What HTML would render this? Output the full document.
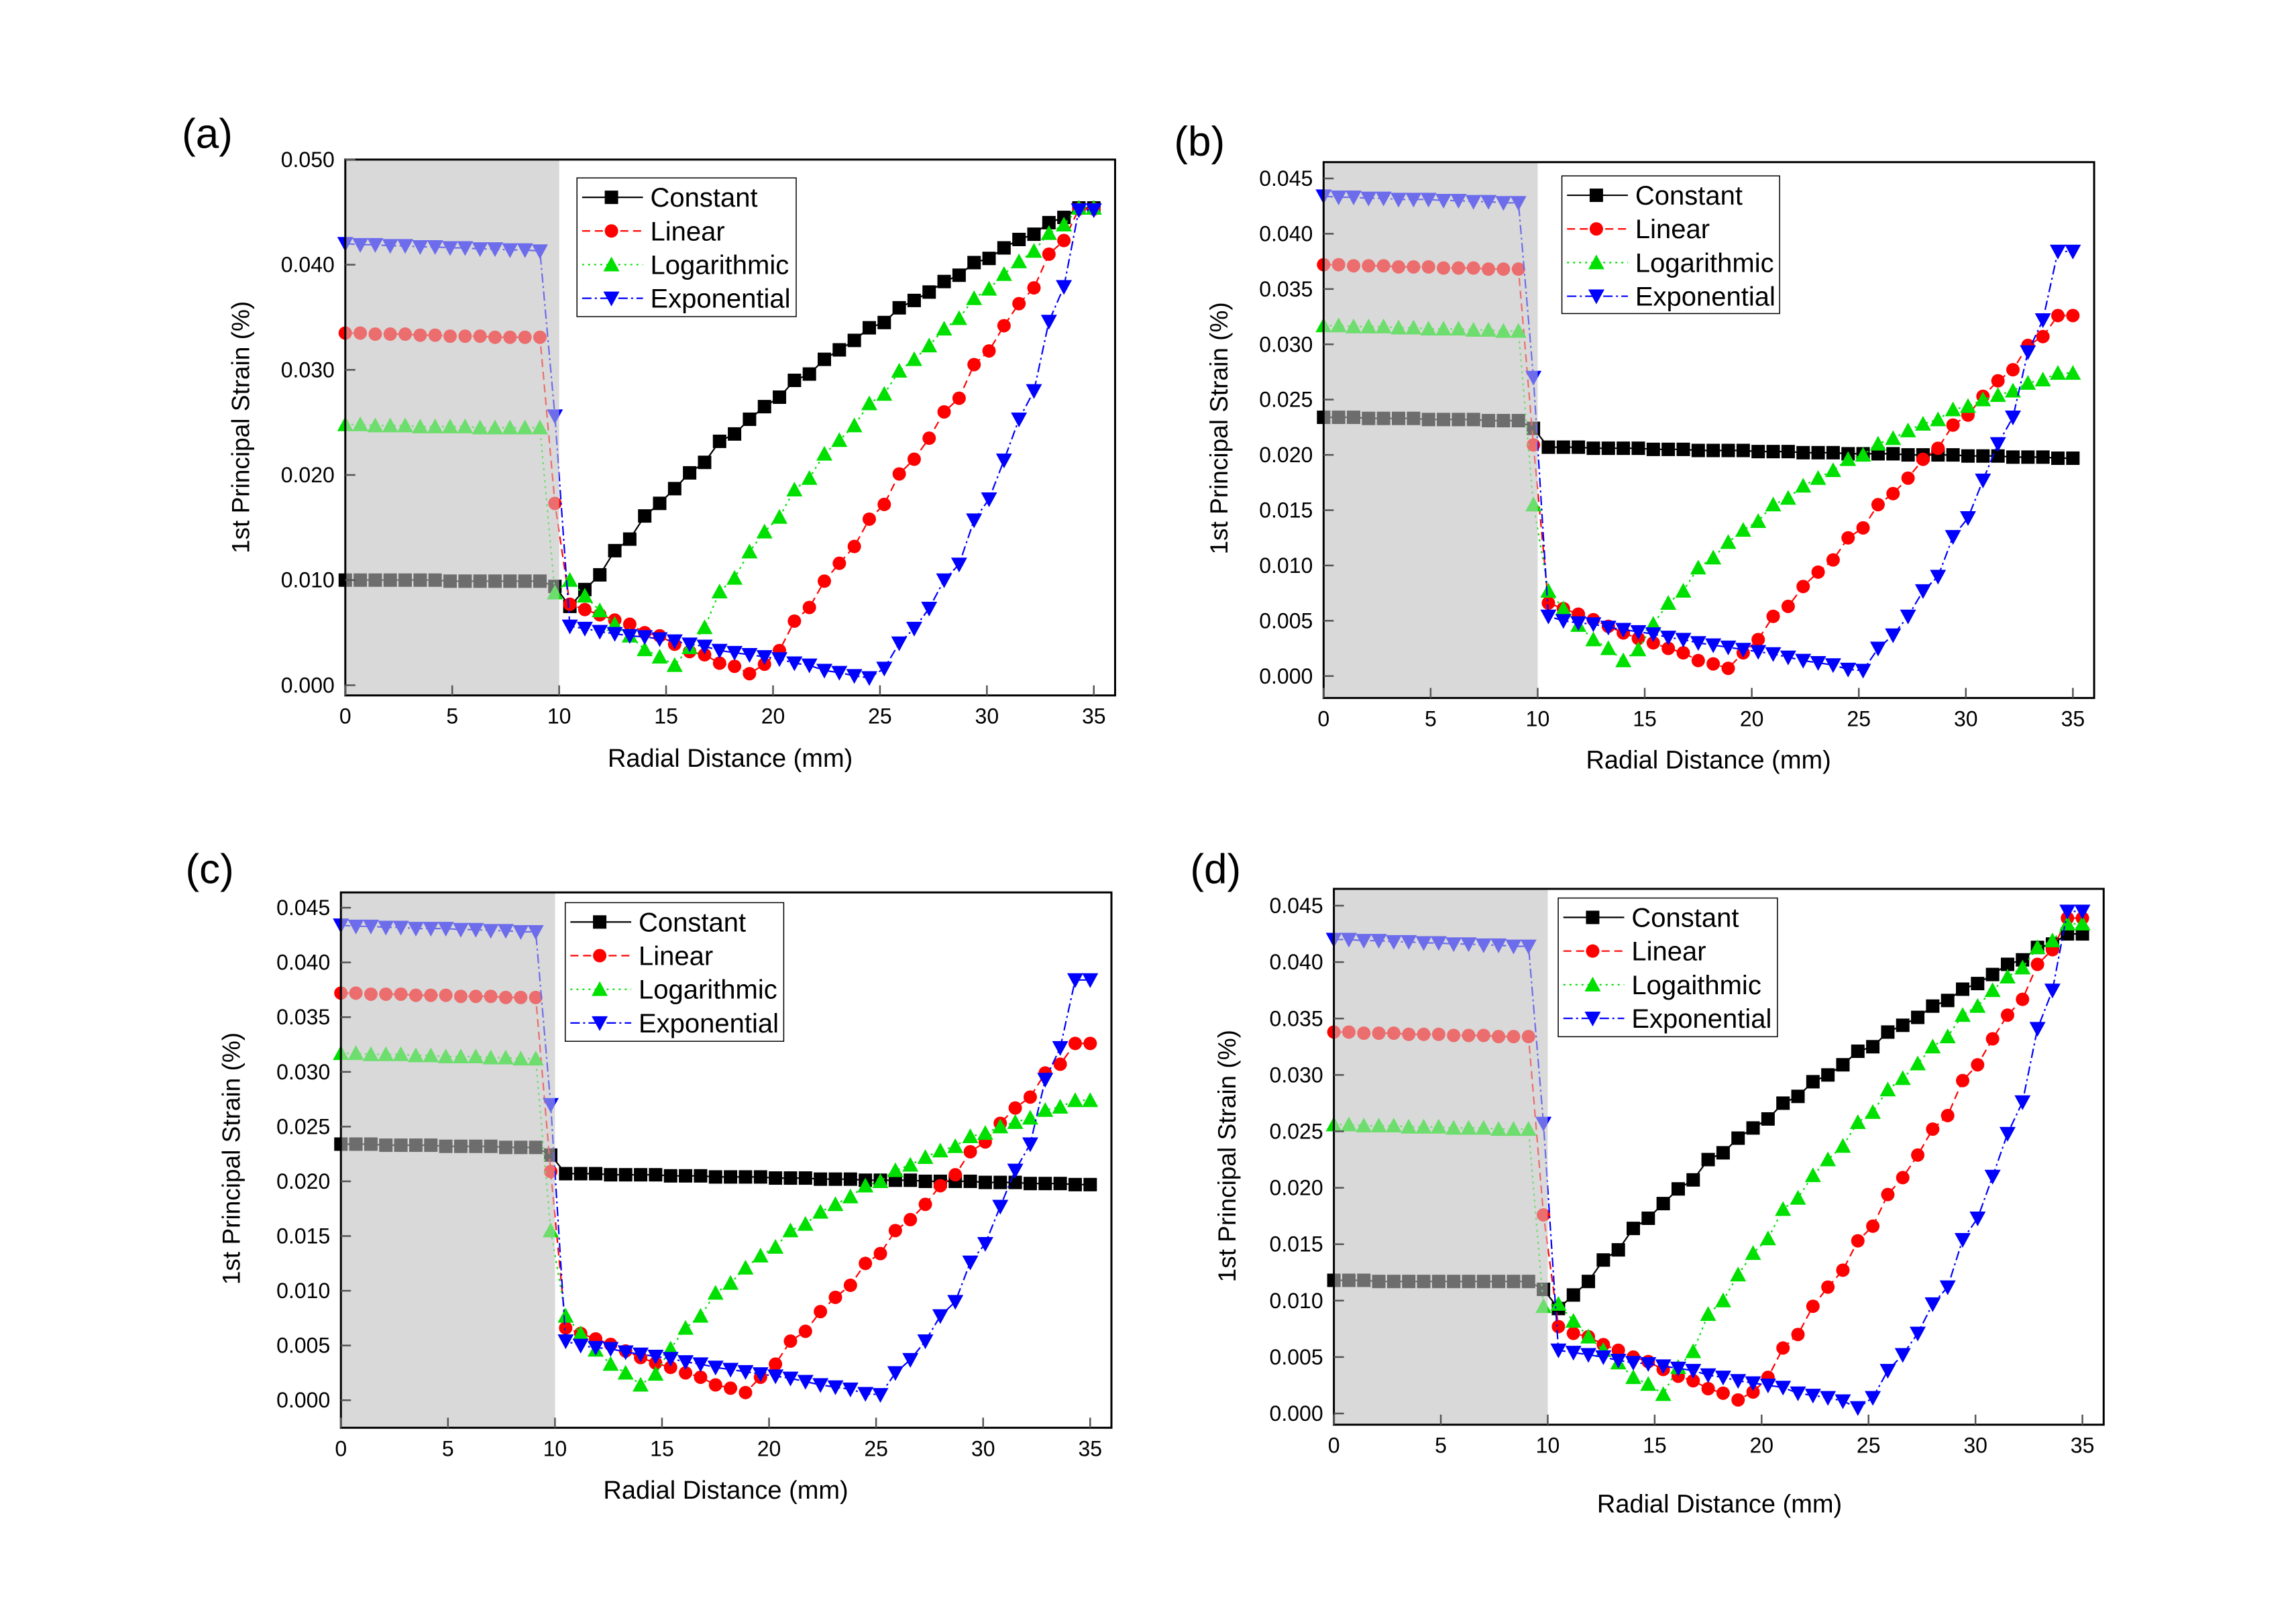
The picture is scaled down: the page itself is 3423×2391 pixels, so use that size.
<!DOCTYPE html>
<html><head><meta charset="utf-8"><style>
html,body{margin:0;padding:0;background:#fff}
svg{display:block}
text{font-family:"Liberation Sans",Arial,sans-serif;fill:#000}
</style></head><body>
<svg id="fig" xmlns="http://www.w3.org/2000/svg" width="3423" height="2391" viewBox="0 0 3423 2391">
<rect width="3423" height="2391" fill="#fff"/>
</svg>
<script>
// x positions (mm): 0, 0.7, ..., 35
const xValues = Array.from({length:51},(_,i)=>+(i*0.7).toFixed(1));
const xTicks = [0,5,10,15,20,25,30,35];
const seriesNames = ["Constant","Linear","Logarithmic","Exponential"];
const seriesNamesD = ["Constant","Linear","Logaithmic","Exponential"];
const yTicksA = ["0.000","0.010","0.020","0.030","0.040","0.050"];
const yTicksB = ["0.000","0.005","0.010","0.015","0.020","0.025","0.030","0.035","0.040","0.045"];

// Panel (a)
const aConstant = [0.0100,0.0100,0.0100,0.0100,0.0100,0.0100,0.0100,0.0099,0.0099,0.0099,0.0099,0.0099,0.0099,0.0099,
 0.0094,0.0075,0.0091,0.0105,0.0128,0.0139,0.0161,0.0173,0.0187,0.0202,0.0212,0.0232,0.0239,0.0253,0.0265,0.0274,0.0290,0.0296,0.0310,0.0319,0.0328,0.0340,0.0345,0.0359,0.0366,0.0374,0.0384,0.0390,0.0402,0.0406,0.0416,0.0424,0.0429,0.0440,0.0445,0.0454,0.0454];
const aLinear = [0.0335,0.0335,0.0334,0.0334,0.0334,0.0333,0.0333,0.0332,0.0332,0.0332,0.0331,0.0331,0.0331,0.0331,
 0.0173,0.0077,0.0072,0.0067,0.0062,0.0058,0.0050,0.0047,0.0039,0.0032,0.0029,0.0021,0.0018,0.0011,0.0020,0.0033,0.0061,0.0074,0.0099,0.0116,0.0132,0.0158,0.0172,0.0201,0.0215,0.0235,0.0260,0.0273,0.0305,0.0318,0.0342,0.0363,0.0378,0.0410,0.0423,0.0453,0.0453];
const aLog = [0.0248,0.0248,0.0247,0.0247,0.0247,0.0246,0.0246,0.0246,0.0246,0.0245,0.0245,0.0245,0.0245,0.0245,
 0.0088,0.0100,0.0085,0.0071,0.0058,0.0047,0.0034,0.0027,0.0019,0.0036,0.0055,0.0089,0.0102,0.0127,0.0146,0.0160,0.0186,0.0197,0.0220,0.0233,0.0247,0.0268,0.0277,0.0299,0.0310,0.0323,0.0339,0.0349,0.0368,0.0377,0.0391,0.0403,0.0413,0.0430,0.0438,0.0454,0.0454];
const aExp = [0.0420,0.0419,0.0419,0.0418,0.0418,0.0417,0.0417,0.0416,0.0416,0.0415,0.0415,0.0414,0.0414,0.0413,
 0.0256,0.0056,0.0054,0.0051,0.0049,0.0047,0.0046,0.0044,0.0042,0.0039,0.0037,0.0033,0.0031,0.0029,0.0027,0.0025,0.0021,0.0019,0.0014,0.0012,0.0009,0.0007,0.0016,0.0040,0.0054,0.0073,0.0100,0.0115,0.0157,0.0177,0.0214,0.0253,0.0280,0.0346,0.0379,0.0452,0.0452];

// Panels (b) and (c)
const bConstant = [0.0234,0.0234,0.0234,0.0233,0.0233,0.0233,0.0233,0.0232,0.0232,0.0232,0.0232,0.0231,0.0231,0.0231,
 0.0224,0.0207,0.0207,0.0207,0.0206,0.0206,0.0206,0.0206,0.0205,0.0205,0.0205,0.0204,0.0204,0.0204,0.0204,0.0203,0.0203,0.0203,0.0202,0.0202,0.0202,0.0201,0.0201,0.0201,0.0201,0.0200,0.0200,0.0200,0.0200,0.0199,0.0199,0.0199,0.0198,0.0198,0.0198,0.0197,0.0197];
const bLinear = [0.0372,0.0372,0.0371,0.0371,0.0371,0.0370,0.0370,0.0370,0.0369,0.0369,0.0369,0.0368,0.0368,0.0368,
 0.0209,0.0066,0.0061,0.0056,0.0051,0.0045,0.0039,0.0034,0.0030,0.0025,0.0021,0.0014,0.0011,0.0007,0.0021,0.0033,0.0054,0.0063,0.0081,0.0094,0.0105,0.0125,0.0134,0.0155,0.0165,0.0179,0.0196,0.0206,0.0227,0.0236,0.0253,0.0267,0.0277,0.0299,0.0307,0.0326,0.0326];
const bLog = [0.0317,0.0317,0.0316,0.0316,0.0316,0.0315,0.0315,0.0314,0.0314,0.0314,0.0313,0.0313,0.0312,0.0312,
 0.0155,0.0077,0.0061,0.0046,0.0033,0.0025,0.0014,0.0024,0.0047,0.0066,0.0077,0.0098,0.0107,0.0121,0.0132,0.0140,0.0155,0.0161,0.0172,0.0179,0.0186,0.0196,0.0200,0.0210,0.0215,0.0222,0.0228,0.0232,0.0241,0.0244,0.0250,0.0254,0.0258,0.0265,0.0268,0.0274,0.0274];
const bExp = [0.0434,0.0433,0.0433,0.0432,0.0432,0.0431,0.0431,0.0431,0.0430,0.0430,0.0429,0.0429,0.0428,0.0428,
 0.0270,0.0054,0.0050,0.0048,0.0047,0.0044,0.0042,0.0040,0.0038,0.0035,0.0033,0.0030,0.0028,0.0026,0.0024,0.0022,0.0020,0.0017,0.0014,0.0012,0.0010,0.0006,0.0005,0.0025,0.0037,0.0054,0.0077,0.0090,0.0126,0.0143,0.0177,0.0210,0.0234,0.0293,0.0322,0.0384,0.0384];

// Panel (d)
const dConstant = [0.0118,0.0118,0.0118,0.0117,0.0117,0.0117,0.0117,0.0117,0.0117,0.0117,0.0117,0.0117,0.0117,0.0117,
 0.0110,0.0093,0.0105,0.0117,0.0136,0.0145,0.0164,0.0173,0.0186,0.0199,0.0207,0.0225,0.0231,0.0244,0.0253,0.0261,0.0275,0.0281,0.0294,0.0300,0.0309,0.0321,0.0325,0.0338,0.0344,0.0351,0.0361,0.0366,0.0376,0.0381,0.0389,0.0398,0.0402,0.0413,0.0416,0.0425,0.0425];
const dLinear = [0.0338,0.0338,0.0337,0.0337,0.0337,0.0336,0.0336,0.0336,0.0335,0.0335,0.0335,0.0334,0.0334,0.0334,
 0.0176,0.0077,0.0071,0.0068,0.0061,0.0056,0.0050,0.0046,0.0039,0.0033,0.0029,0.0022,0.0018,0.0012,0.0019,0.0032,0.0058,0.0070,0.0095,0.0112,0.0127,0.0153,0.0166,0.0194,0.0209,0.0229,0.0252,0.0264,0.0295,0.0309,0.0332,0.0353,0.0367,0.0398,0.0411,0.0439,0.0439];
const dLog = [0.0256,0.0256,0.0255,0.0255,0.0255,0.0254,0.0254,0.0254,0.0253,0.0253,0.0253,0.0252,0.0252,0.0252,
 0.0095,0.0097,0.0082,0.0068,0.0056,0.0045,0.0032,0.0026,0.0017,0.0041,0.0055,0.0088,0.0100,0.0123,0.0142,0.0155,0.0181,0.0191,0.0211,0.0225,0.0237,0.0258,0.0267,0.0287,0.0297,0.0310,0.0325,0.0334,0.0353,0.0361,0.0375,0.0387,0.0395,0.0413,0.0419,0.0434,0.0434];
const dExp = [0.0420,0.0420,0.0419,0.0419,0.0418,0.0418,0.0417,0.0417,0.0416,0.0416,0.0415,0.0415,0.0414,0.0414,
 0.0257,0.0056,0.0054,0.0052,0.0050,0.0047,0.0045,0.0044,0.0042,0.0040,0.0038,0.0034,0.0032,0.0029,0.0027,0.0025,0.0023,0.0018,0.0016,0.0014,0.0011,0.0005,0.0014,0.0038,0.0052,0.0071,0.0097,0.0112,0.0154,0.0173,0.0210,0.0248,0.0276,0.0341,0.0375,0.0445,0.0445];

const NS = "http://www.w3.org/2000/svg";
const svg = document.getElementById("fig");
const FX = 1.093, FY = 0.760;
function mk(tag, attrs, parent){
  const e = document.createElementNS(NS, tag);
  for (const k in attrs) e.setAttribute(k, attrs[k]);
  parent.appendChild(e);
  return e;
}
const colors = ["#000000","#ff0000","#00e000","#0000ff"];
const dashes = ["none","12,7","3,6","14,5,3,5"];
const markerKinds = ["square","circle","up","down"];

function drawMarker(g, kind, x, y, color){
  let m;
  if (kind==="square") m = mk("rect",{x:x-10,y:y-10,width:20,height:20,fill:color},g);
  else if (kind==="circle") m = mk("circle",{cx:x,cy:y,r:10,fill:color},g);
  else if (kind==="up") m = mk("polygon",{points:`${x-12},${y+10} ${x+12},${y+10} ${x},${y-12}`,fill:color},g);
  else m = mk("polygon",{points:`${x-12},${y-10} ${x+12},${y-10} ${x},${y+12}`,fill:color},g);
  return m;
}

function panel(cfg){
  const X = z => cfg.qx + z*FX;
  const Y = z => cfg.qy + z*FY;
  const g = mk("g",{},svg);
  
  
  const xs = v => X(cfg.x0 + v/35*(cfg.x35 - cfg.x0));
  const ys = v => Y(cfg.y0 - v/cfg.ymaxTick*(cfg.y0 - cfg.yTop));
  const L = X(cfg.box[0]), R = X(cfg.box[1]), T = Y(cfg.box[2]), B = Y(cfg.box[3]);
  const sh = mk("rect",{x:L,y:T,width:xs(10)-L,height:B-T,fill:"#d9d9d9"},g);
  
  
  cfg.series.forEach((vals, si) => {
    const sg = mk("g",{},g);
    
    
    const pts = vals.map((v,i)=>`${xs(xValues[i]).toFixed(1)},${ys(v).toFixed(1)}`).join(" ");
    const pl = mk("polyline",{points:pts,fill:"none",stroke:colors[si],"stroke-width":2.2,"stroke-dasharray":dashes[si]},sg);
    
    
    vals.forEach((v,i)=>{
      const m = drawMarker(sg, markerKinds[si], xs(xValues[i]), ys(v), colors[si]);
      
      
    });
  });
  const ov = mk("rect",{x:L,y:T,width:xs(10)-L,height:B-T,fill:"#d9d9d9","fill-opacity":0.5},g);
  
  
  const fr = mk("rect",{x:L,y:T,width:R-L,height:B-T,fill:"none",stroke:"#000","stroke-width":3},g);
  
  
  cfg.yTicks.forEach((lab,i)=>{
    const v = i*cfg.yStep, y = ys(v);
    const t = mk("line",{x1:L,y1:y,x2:L+15,y2:y,stroke:"#555","stroke-width":2.5},g);
    
    
    const tx = mk("text",{x:L-16,y:y+11,"font-size":32,"text-anchor":"end"},g);
    tx.textContent = lab;
    
    
  });
  xTicks.forEach(v=>{
    const x = xs(v);
    const t = mk("line",{x1:x,y1:B,x2:x,y2:B-15,stroke:"#555","stroke-width":2.5},g);
    
    
    const tx = mk("text",{x:x,y:B+42,"font-size":32,"text-anchor":"middle"},g);
    tx.textContent = String(v);
    
    
  });
  const xl = mk("text",{x:X(cfg.xlab[0]),y:Y(cfg.xlab[1])+13,"font-size":38,"text-anchor":"middle"},g);
  xl.textContent = "Radial Distance (mm)";
  
  
  const yx = X(cfg.ylab[0]), yy = Y(cfg.ylab[1]);
  const yl = mk("text",{x:yx,y:yy,"font-size":37,"text-anchor":"middle",transform:`rotate(-90 ${yx} ${yy}) translate(0 13)`},g);
  yl.textContent = "1st Principal Strain (%)";
  
  
  const pt = mk("text",{x:X(cfg.title[0]),y:Y(cfg.title[1]),"font-size":62},g);
  pt.textContent = "(" + cfg.id + ")";
  
  
  const lg = mk("g",{},g);
  
  
  const lx0 = X(cfg.leg[0]), lx1 = X(cfg.leg[1]), ly0 = Y(cfg.leg[2]), ly1 = Y(cfg.leg[3]);
  mk("rect",{x:lx0,y:ly0,width:lx1-lx0,height:ly1-ly0,fill:"#fff",stroke:"#000","stroke-width":1.5},lg);
  cfg.names.forEach((nm,i)=>{
    const e = mk("g",{},lg);
    
    
    const ry = Y(cfg.leg[2] + 38 + i*66);
    mk("line",{x1:X(cfg.leg[0]+7),y1:ry,x2:X(cfg.leg[0]+90),y2:ry,stroke:colors[i],"stroke-width":2.2,"stroke-dasharray":dashes[i]},e);
    drawMarker(e, markerKinds[i], X(cfg.leg[0]+47), ry, colors[i]);
    const t = mk("text",{x:X(cfg.leg[0]+100),y:ry+14,"font-size":40},e);
    t.textContent = nm;
  });
}

panel({id:"a",qx:0,qy:0,box:[471,1521,313,1364],x0:471,x35:1492,y0:1344,yTop:313,ymaxTick:0.050,yStep:0.010,yTicks:yTicksA,
  leg:[787,1086,349,621],title:[248,290],ylab:[328,838],xlab:[996,1487],names:seriesNames,series:[aConstant,aLinear,aLog,aExp]});
panel({id:"b",qx:1711,qy:0,box:[240,1291,318,1369],x0:240,x35:1262,y0:1326,yTop:350,ymaxTick:0.045,yStep:0.005,yTicks:yTicksB,
  leg:[565,862,345,615],title:[36,305],ylab:[97,840],xlab:[765,1490],names:seriesNames,series:[bConstant,bLinear,bLog,bExp]});
panel({id:"c",qx:0,qy:1195,box:[465,1516,178,1228],x0:465,x35:1487,y0:1174,yTop:208,ymaxTick:0.045,yStep:0.005,yTicks:yTicksB,
  leg:[771,1069,198,470],title:[253,160],ylab:[315,700],xlab:[990,1350],names:seriesNames,series:[bConstant,bLinear,bLog,bExp]});
panel({id:"d",qx:1711,qy:1195,box:[254,1304,171,1222],x0:254,x35:1275,y0:1200,yTop:204,ymaxTick:0.045,yStep:0.005,yTicks:yTicksB,
  leg:[560,859,189,461],title:[58,160],ylab:[108,695],xlab:[780,1377],names:seriesNamesD,series:[dConstant,dLinear,dLog,dExp]});
</script>
</body></html>
